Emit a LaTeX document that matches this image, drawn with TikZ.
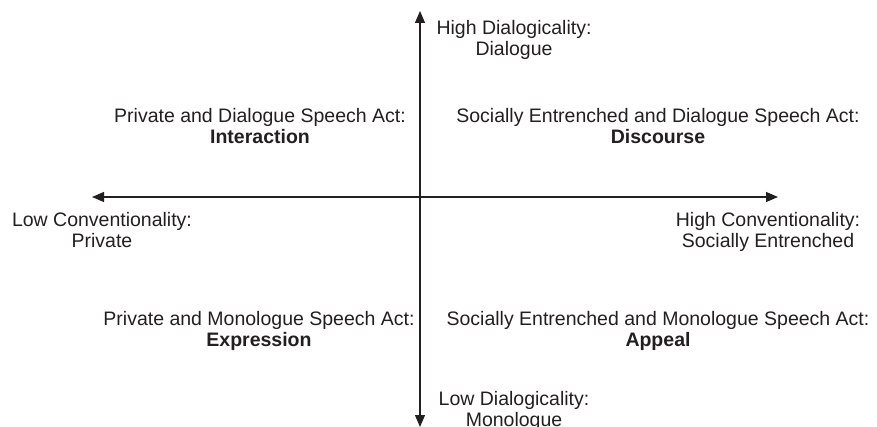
\documentclass[tikz,border=0pt]{standalone}
\usepackage{fontspec}
\setmainfont{Liberation Sans}
\usetikzlibrary{arrows.meta}
\definecolor{ink}{HTML}{231F20}
\begin{document}
\begin{tikzpicture}[x=1pt,y=-1pt,
  axis/.style={draw=ink,line width=1.2pt,{Triangle[length=12pt,width=10pt]}-{Triangle[length=12pt,width=10pt]}},
  lbl/.style={text=ink,align=center,inner sep=0pt,anchor=base,
    font=\fontsize{19.5}{21}\selectfont}]
\useasboundingbox (0,0) rectangle (877,427);
% axis end points
\coordinate (ytop) at (420,11);
\coordinate (ybot) at (420,427);
\coordinate (xleft) at (92,197);
\coordinate (xright) at (778,197);
\draw[axis] (ytop) -- (ybot);
\draw[axis] (xleft) -- (xright);
% axis labels (anchored at the baseline of the last line)
\node[lbl] (hdial) at (514,56) {High Dialogicality:\\Dialogue};
\node[lbl] (ldial) at (514,426) {Low Dialogicality:\\Monologue};
\node[lbl] (lconv) at (102,248) {Low Conventionality:\\Private};
\node[lbl] (hconv) at (768,248) {High Conventionality:\\Socially Entrenched};
% quadrant labels
\node[lbl] (inter) at (260,144) {Private and Dialogue Speech Act:\\\textbf{Interaction}};
\node[lbl] (disc) at (658,144) {Socially Entrenched and Dialogue Speech Act:\\\textbf{Discourse}};
\node[lbl] (expr) at (259,346) {Private and Monologue Speech Act:\\\textbf{Expression}};
\node[lbl] (appeal) at (658,346) {Socially Entrenched and Monologue Speech Act:\\\textbf{Appeal}};
\end{tikzpicture}
\end{document}
